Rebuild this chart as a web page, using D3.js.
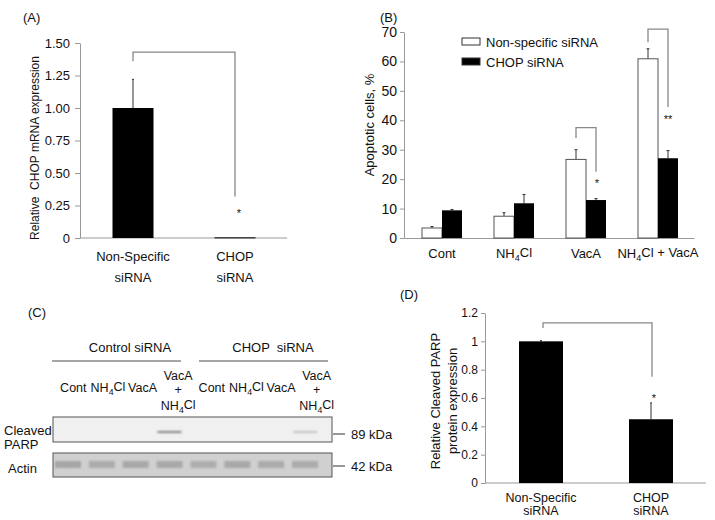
<!DOCTYPE html>
<html><head><meta charset="utf-8">
<script src="https://cdn.jsdelivr.net/npm/d3@7"></script>
<style>
body{margin:0;background:#fff;}
text{font-family:"Liberation Sans",Arial,sans-serif;fill:#111;white-space:pre;}
</style></head>
<body><svg id="c" width="715" height="520"></svg>
<script>
// ---- Panel A data
const aCats = ["Non-Specific siRNA", "CHOP siRNA"];
const aVals = [1.0, 0.005];
const aErr = [0.22, 0.0];
const aTicks = [0, 0.25, 0.5, 0.75, 1.0, 1.25, 1.5];
// ---- Panel B data
const bCats = ["Cont", "NH4Cl", "VacA", "NH4Cl + VacA"];
const bSeries = ["Non-specific siRNA", "CHOP siRNA"];
const bNonSpec = [3.4, 7.4, 26.7, 60.9];
const bNonSpecErr = [0.5, 1.2, 3.3, 3.4];
const bChop = [9.4, 11.8, 12.9, 27.1];
const bChopErr = [0.3, 3.0, 0.5, 2.6];
const bTicks = [0, 10, 20, 30, 40, 50, 60, 70];
// ---- Panel C data (western blot)
const cGroups = ["Control siRNA", "CHOP  siRNA"];
const cLanes = ["Cont", "NH4Cl", "VacA", "VacA+NH4Cl", "Cont", "NH4Cl", "VacA", "VacA+NH4Cl"];
const cParp = [0, 0, 0, 0.7, 0, 0, 0, 0.3];
const cActin = [0.85, 0.75, 0.8, 0.8, 0.7, 0.8, 0.75, 0.75];
// ---- Panel D data
const dCats = ["Non-Specific siRNA", "CHOP siRNA"];
const dVals = [1.0, 0.45];
const dErr = [0.005, 0.115];
const dTicks = [0, 0.2, 0.4, 0.6, 0.8, 1.0, 1.2];

const svg = d3.select("#c");
const axisCol = "#999";

function styleAxis(g){
  g.selectAll(".domain").attr("stroke", axisCol);
  g.selectAll(".tick line").attr("stroke", axisCol);
}
function subLabel(sel, str){
  const parts = str.split("NH4Cl");
  parts.forEach((p,i)=>{
    if(i>0){
      sel.append("tspan").text("NH");
      sel.append("tspan").attr("font-size","0.7em").attr("dy","0.3em").text("4");
      sel.append("tspan").attr("dy","-0.3em").text("Cl");
    }
    if(p) sel.append("tspan").text(p);
  });
}
function errBar(g, x, y0, y1, cap){
  g.append("line").attr("x1",x).attr("x2",x).attr("y1",y0).attr("y2",y1).attr("stroke","#333").attr("stroke-width",1);
  g.append("line").attr("x1",x-cap).attr("x2",x+cap).attr("y1",y1).attr("y2",y1).attr("stroke","#333").attr("stroke-width",1);
}
function bracket(g, x1, x2, yTop, y1b, y2b){
  g.append("path").attr("d",`M${x1},${y1b}V${yTop}H${x2}V${y2b}`)
    .attr("fill","none").attr("stroke","#888").attr("stroke-width",1.3);
}

// ================= Panel A
{
  const g = svg.append("g");
  const y = d3.scaleLinear().domain([0,1.5]).range([238,43]);
  const x = d3.scalePoint().domain(aCats).range([82,286]).padding(0.5);
  g.append("text").attr("x",23).attr("y",22).attr("font-size",13).text("(A)");
  const ay = g.append("g").attr("transform","translate(80,0)")
    .call(d3.axisLeft(y).tickValues(aTicks).tickSize(5).tickSizeOuter(0)
      .tickFormat(d=>d===0?"0":d.toFixed(2)));
  ay.selectAll("text").attr("font-size",13).attr("fill","#111").attr("x",-10);
  styleAxis(ay);
  g.append("line").attr("x1",80).attr("x2",287).attr("y1",238).attr("y2",238).attr("stroke",axisCol);
  aCats.forEach((c,i)=>{
    const cx = x(c);
    if(aErr[i]>0) errBar(g, cx, y(aVals[i]), y(aVals[i]+aErr[i]), 1);
    g.append("rect").attr("x",cx-20.5).attr("width",41).attr("y",y(aVals[i])).attr("height",Math.max(1,y(0)-y(aVals[i]))).attr("fill","#000");
    const words = c.split(" ");
    words.forEach((w,k)=>g.append("text").attr("x",cx).attr("y",261+k*21).attr("text-anchor","middle").attr("font-size",13).text(w));
  });
  bracket(g, x(aCats[0]), x(aCats[1]), y(1.43), y(1.36), y(0.32));
  g.append("text").attr("x",x(aCats[1])+4).attr("y",y(0.16)).attr("text-anchor","middle").attr("font-size",11).text("*");
  g.append("text").attr("transform","translate(39,148) rotate(-90)").attr("text-anchor","middle").attr("font-size",12)
    .text("Relative  CHOP mRNA expression");
}

// ================= Panel B
{
  const g = svg.append("g");
  const y = d3.scaleLinear().domain([0,70]).range([238,32]);
  const x = d3.scalePoint().domain(bCats).range([406,694]).padding(0.5);
  g.append("text").attr("x",380).attr("y",22).attr("font-size",13).text("(B)");
  const ay = g.append("g").attr("transform","translate(404,0)")
    .call(d3.axisLeft(y).tickValues(bTicks).tickSize(4).tickSizeOuter(0));
  ay.selectAll("text").attr("font-size",14).attr("fill","#111").attr("x",-7);
  styleAxis(ay);
  const ax = g.append("g").attr("transform","translate(0,238)")
    .call(d3.axisBottom(d3.scaleLinear().range([404,694])).tickValues([]).tickSizeOuter(0));
  styleAxis(ax);
  const bw = 20;
  bCats.forEach((c,i)=>{
    const cx = x(c);
    errBar(g, cx-bw/2, y(bNonSpec[i]), y(bNonSpec[i]+bNonSpecErr[i]), 1.5);
    errBar(g, cx+bw/2, y(bChop[i]), y(bChop[i]+bChopErr[i]), 1.5);
    g.append("rect").attr("x",cx-bw).attr("width",bw).attr("y",y(bNonSpec[i])).attr("height",y(0)-y(bNonSpec[i]))
      .attr("fill","#fff").attr("stroke","#555").attr("stroke-width",1);
    g.append("rect").attr("x",cx).attr("width",bw).attr("y",y(bChop[i])).attr("height",y(0)-y(bChop[i])).attr("fill","#000");
    const t = g.append("text").attr("x",cx).attr("y",258).attr("text-anchor","middle").attr("font-size",13);
    subLabel(t, c);
  });
  const vx = x("VacA"), nx = x("NH4Cl + VacA");
  bracket(g, vx-bw/2, vx+bw/2, y(37.5), y(34), y(22.5));
  g.append("text").attr("x",vx+bw/2+1).attr("y",y(17.5)).attr("text-anchor","middle").attr("font-size",11).text("*");
  bracket(g, nx-bw/2, nx+bw/2, y(71), y(66.5), y(44.5));
  g.append("text").attr("x",nx+bw/2).attr("y",y(39)).attr("text-anchor","middle").attr("font-size",11).text("**");
  const leg = ["#fff","#000"];
  bSeries.forEach((s,i)=>{
    g.append("rect").attr("x",462).attr("y",38+i*20).attr("width",18).attr("height",7)
      .attr("fill",leg[i]).attr("stroke","#333").attr("stroke-width",1);
    g.append("text").attr("x",486).attr("y",47+i*20).attr("font-size",13).text(s);
  });
  g.append("text").attr("transform","translate(374,125) rotate(-90)").attr("text-anchor","middle").attr("font-size",13)
    .text("Apoptotic cells, %");
}

// ================= Panel C (western blot)
{
  const g = svg.append("g");
  const defs = svg.append("defs");
  defs.append("filter").attr("id","blur").attr("x","-50%").attr("y","-200%").attr("width","200%").attr("height","500%")
    .append("feGaussianBlur").attr("stdDeviation",1.2);
  const lx = d3.scalePoint().domain(d3.range(cLanes.length)).range([56,333]).padding(0.5);
  const bx = d3.scalePoint().domain(d3.range(cLanes.length)).range([51,322]).padding(0.5);
  g.append("text").attr("x",28).attr("y",317).attr("font-size",13).text("(C)");
  [52,199].forEach((x0,i)=>{
    g.append("text").attr("x",i===0?130:273).attr("y",352).attr("text-anchor","middle").attr("font-size",13).text(cGroups[i]);
    g.append("line").attr("x1",x0).attr("x2",x0+129).attr("y1",361).attr("y2",361).attr("stroke","#888").attr("stroke-width",1.3);
  });
  cLanes.forEach((l,i)=>{
    const cx = lx(i);
    if(l==="VacA+NH4Cl"){
      g.append("text").attr("x",cx+1).attr("y",380).attr("text-anchor","middle").attr("font-size",12.5).text("VacA");
      g.append("text").attr("x",cx+1).attr("y",394).attr("text-anchor","middle").attr("font-size",12.5).text("+");
      const t3 = g.append("text").attr("x",cx+1).attr("y",410).attr("text-anchor","middle").attr("font-size",12.5);
      subLabel(t3,"NH4Cl");
    } else {
      const t = g.append("text").attr("x",cx).attr("y",392).attr("text-anchor","middle").attr("font-size",12.5);
      subLabel(t,l);
    }
  });
  g.append("rect").attr("x",53).attr("y",417).attr("width",279).attr("height",25).attr("fill","#f0f0f0").attr("stroke","#555");
  cParp.forEach((v,i)=>{
    if(v>0) g.append("rect").attr("x",bx(i)-12).attr("y",431).attr("width",24).attr("height",2)
      .attr("fill","#555").attr("opacity",v).attr("filter","url(#blur)");
  });
  g.append("rect").attr("x",53).attr("y",453).attr("width",279).attr("height",24).attr("fill","#d0d0d0").attr("stroke","#555");
  cActin.forEach((v,i)=>{
    g.append("rect").attr("x",bx(i)-13).attr("y",461).attr("width",26).attr("height",7)
      .attr("fill","#8a8a8a").attr("opacity",v*0.7).attr("filter","url(#blur)");
  });
  g.append("text").attr("x",4).attr("y",435).attr("font-size",13).text("Cleaved");
  g.append("text").attr("x",4).attr("y",449).attr("font-size",13).text("PARP");
  g.append("text").attr("x",8).attr("y",473).attr("font-size",13).text("Actin");
  [[434,"89 kDa"],[466,"42 kDa"]].forEach(d=>{
    g.append("line").attr("x1",333).attr("x2",345).attr("y1",d[0]).attr("y2",d[0]).attr("stroke","#333");
    g.append("text").attr("x",351).attr("y",d[0]+5).attr("font-size",13).text(d[1]);
  });
}

// ================= Panel D
{
  const g = svg.append("g");
  const y = d3.scaleLinear().domain([0,1.2]).range([483,313]);
  const x = d3.scalePoint().domain(dCats).range([486,706]).padding(0.5);
  g.append("text").attr("x",400).attr("y",299).attr("font-size",13).text("(D)");
  const ay = g.append("g").attr("transform","translate(485,0)")
    .call(d3.axisLeft(y).tickValues(dTicks).tickSize(4).tickSizeOuter(0).tickFormat(d3.format("~g")));
  ay.selectAll("text").attr("font-size",12).attr("fill","#111").attr("x",-7);
  styleAxis(ay);
  g.append("line").attr("x1",485).attr("x2",706).attr("y1",483).attr("y2",483).attr("stroke",axisCol);
  dCats.forEach((c,i)=>{
    const cx = x(c);
    errBar(g, cx, y(dVals[i]), y(dVals[i]+dErr[i]), 1);
    g.append("rect").attr("x",cx-22).attr("width",44).attr("y",y(dVals[i])).attr("height",y(0)-y(dVals[i])).attr("fill","#000");
    c.split(" ").forEach((w,k)=>g.append("text").attr("x",cx).attr("y",502+k*13).attr("text-anchor","middle").attr("font-size",12.5).text(w));
  });
  bracket(g, x(dCats[0])+2, x(dCats[1])+1, y(1.13), y(1.095), y(0.75));
  g.append("text").attr("x",x(dCats[1])+3).attr("y",y(0.57)).attr("text-anchor","middle").attr("font-size",11).text("*");
  g.append("text").attr("transform","translate(440,401) rotate(-90)").attr("text-anchor","middle").attr("font-size",13)
    .text("Relative Cleaved PARP");
  g.append("text").attr("transform","translate(457,401) rotate(-90)").attr("text-anchor","middle").attr("font-size",13)
    .text("protein expression");
}
</script></body></html>
